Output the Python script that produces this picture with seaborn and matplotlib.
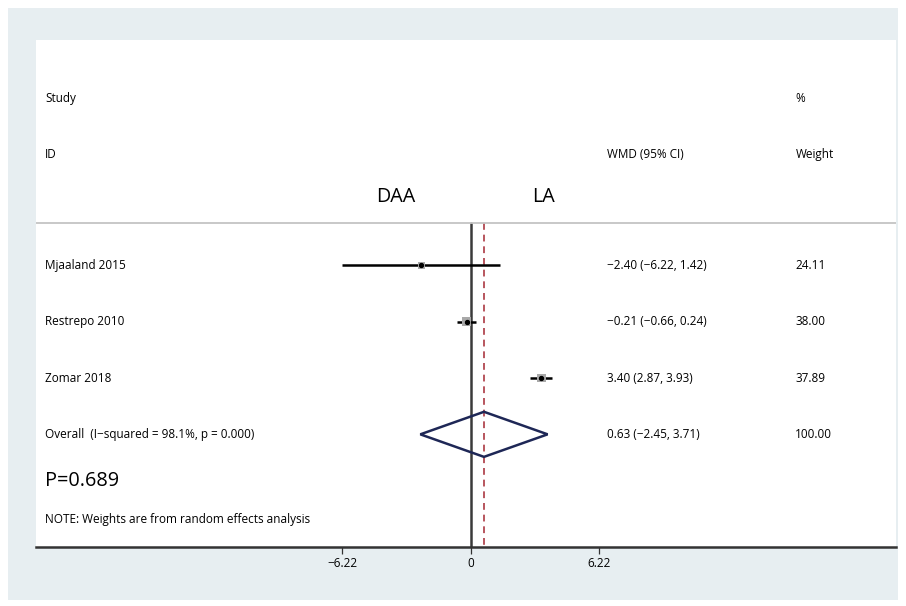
import matplotlib
matplotlib.use("Agg")
import matplotlib.pyplot as plt
import seaborn as sns
import pandas as pd
from matplotlib.patches import Rectangle, Polygon

# data
studies = ["Mjaaland 2015", "Restrepo 2010", "Zomar 2018"]
wmd = [-2.40, -0.21, 3.40]
ci_low = [-6.22, -0.66, 2.87]
ci_high = [1.42, 0.24, 3.93]
weights = [24.11, 38.00, 37.89]
overall = 0.63
overall_low = -2.45
overall_high = 3.71
overall_label = "Overall  (I\u2212squared = 98.1%, p = 0.000)"
xticks = [-6.22, 0, 6.22]
xtick_labels = ["\u22126.22", "0", "6.22"]

def fmt(v):
    return f"{v:.2f}".replace("-", "\u2212")

sns.set_theme(style="white")
plt.rcParams["font.family"] = ["Open Sans", "DejaVu Sans"]
plt.rcParams["text.color"] = "black"

fig = plt.figure(figsize=(9.06, 6.06), dpi=100)
fig.patch.set_facecolor("white")
# outer grey panel
fig.patches.append(Rectangle((8 / 906, 6 / 606), 890 / 906, 592 / 606,
                             transform=fig.transFigure, facecolor="#e7eef1",
                             edgecolor="none", zorder=0))
ax = fig.add_axes([36 / 906, 59 / 606, 860 / 906, 507 / 606])
ax.set_facecolor("white")
ax.set_zorder(1)

ax.set_xlim(-21.05, 20.57)
ax.set_ylim(6.0, -3.0)

rows = list(range(1, len(studies) + 1))
df = pd.DataFrame({"study": studies, "wmd": wmd, "lo": ci_low, "hi": ci_high,
                   "w": weights, "row": rows})

# reference lines
ax.plot([0, 0], [0.25, 6.0], color="#3a3a3a", lw=1.8, zorder=2)
ax.plot([overall, overall], [0.25, 6.0], color="#b8555d", lw=1.4,
        ls=(0, (3.5, 2.5)), zorder=2)
ax.axhline(0.25, color="#c4c4c4", lw=1.3, zorder=2)

# CIs
ax.hlines(df["row"], df["lo"], df["hi"], color="black", lw=1.8, zorder=3)
# weight boxes
sns.scatterplot(data=df, x="wmd", y="row", size="w", sizes=(24, 44),
                size_norm=(20, 40), marker="s", color="#a9a9a9",
                edgecolor="none", legend=False, ax=ax, zorder=4)
ax.scatter(df["wmd"], df["row"], s=8, color="black", zorder=5)

# overall diamond
orow = len(studies) + 1
ax.add_patch(Polygon([(overall_low, orow), (overall, orow - 0.4),
                      (overall_high, orow), (overall, orow + 0.4)],
                     closed=True, fill=False, edgecolor="#1e2756", lw=1.8,
                     zorder=4))

# text columns
fs = 8.45
lx, ex, wx = -20.6, 6.6, 15.7
tk = dict(fontsize=fs, va="center", color="black")
ax.text(lx, -1.97, "Study", **tk)
ax.text(lx, -0.97, "ID", **tk)
ax.text(wx, -1.97, "%", **tk)
ax.text(ex, -0.97, "WMD (95% CI)", **tk)
ax.text(wx, -0.97, "Weight", **tk)
ax.text(-3.63, -0.21, "DAA", fontsize=14.2, va="center", ha="center")
ax.text(3.53, -0.21, "LA", fontsize=14.2, va="center", ha="center")
for r, s, m, lo, hi, w in zip(rows, studies, wmd, ci_low, ci_high, weights):
    ax.text(lx, r, s, **tk)
    ax.text(ex, r, f"{fmt(m)} ({fmt(lo)}, {fmt(hi)})", **tk)
    ax.text(wx, r, f"{w:.2f}", **tk)
ax.text(lx, orow, overall_label, **tk)
ax.text(ex, orow, f"{fmt(overall)} ({fmt(overall_low)}, {fmt(overall_high)})",
        **tk)
ax.text(wx, orow, f"{sum(weights):.2f}", **tk)
ax.text(lx, 4.82, "P=0.689", fontsize=14.3, va="center")
ax.text(lx, 5.51, "NOTE: Weights are from random effects analysis", **tk)

# axes
for side in ["top", "left", "right"]:
    ax.spines[side].set_visible(False)
ax.spines["bottom"].set_color("#333333")
ax.spines["bottom"].set_linewidth(1.8)
ax.set_yticks([])
ax.set_xticks(xticks)
ax.set_xticklabels(xtick_labels, fontsize=fs)
ax.tick_params(axis="x", bottom=True, length=5, width=0.9, color="#333333",
               pad=2, labelcolor="black")
ax.set_xlabel("")
ax.set_ylabel("")

fig.savefig("out.png", dpi=100, facecolor=fig.get_facecolor())
